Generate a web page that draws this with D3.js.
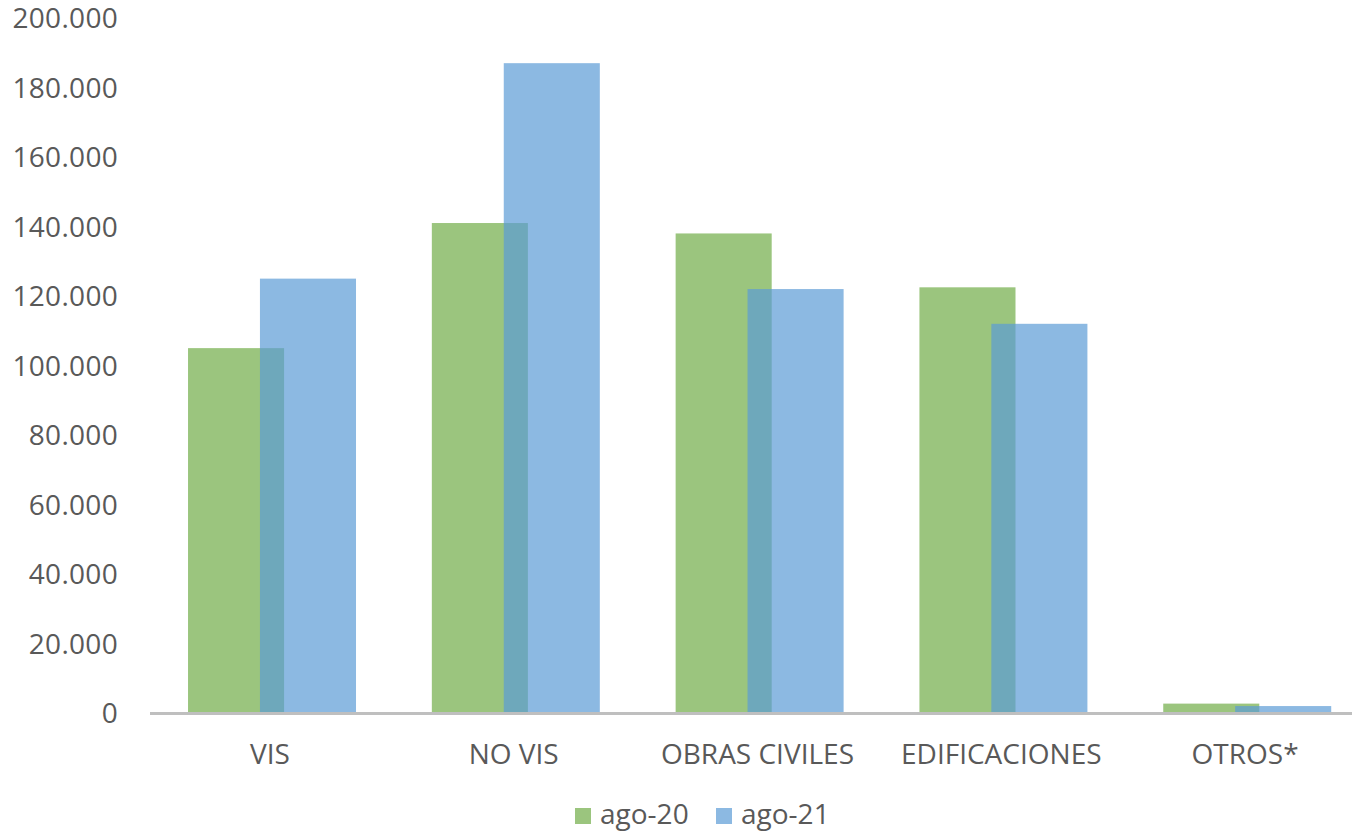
<!DOCTYPE html>
<html>
<head>
<meta charset="utf-8">
<script src="https://cdn.jsdelivr.net/npm/d3@7"></script>
<style>
  html, body { margin: 0; padding: 0; background: #fff; }
  svg { display: block; font-family: 'Open Sans', sans-serif; }
</style>
</head>
<body>
<svg id="chart" width="1352" height="835"></svg>
<script>
const categories = ['VIS', 'NO VIS', 'OBRAS CIVILES', 'EDIFICACIONES', 'OTROS*'];
const seriesNames = ['ago-20', 'ago-21'];
const ago20 = [105000, 141000, 138000, 122500, 2700];
const ago21 = [125000, 187000, 122000, 112000, 2000];
const yTicks = [0, 20000, 40000, 60000, 80000, 100000, 120000, 140000, 160000, 180000, 200000];

const colors = { 'ago-20': '#70AD47', 'ago-21': '#5B9BD5' };
const barOpacity = 0.7;
const textColor = '#595959';

const locale = d3.formatLocale({ decimal: ',', thousands: '.', grouping: [3], currency: ['$', ''] });
const fmt = locale.format(',d');

const svg = d3.select('#chart');

const x = d3.scaleBand()
    .domain(categories)
    .range([150, 1369]);
const y = d3.scaleLinear()
    .domain([0, 200000])
    .range([713, 18]);

const bw = x.bandwidth();
const barW = bw * 0.394;
const offsets = { 'ago-20': bw * 0.156, 'ago-21': bw * 0.451 };

// y tick labels (no gridlines)
svg.append('g')
    .attr('class', 'y-labels')
    .selectAll('text')
    .data(yTicks)
    .enter()
    .append('text')
        .attr('x', 118)
        .attr('y', d => y(d))
        .attr('dy', '0.37em')
        .attr('text-anchor', 'end')
        .attr('fill', textColor)
        .style('font-size', '28px')
        .style('letter-spacing', '0.3px')
        .text(d => fmt(d));

// bars
const series = [
    { name: 'ago-20', values: ago20 },
    { name: 'ago-21', values: ago21 }
];

series.forEach(s => {
    svg.append('g')
        .attr('class', 'bars')
        .selectAll('rect')
        .data(categories.map((c, i) => ({ cat: c, value: s.values[i] })))
        .enter()
        .append('rect')
            .attr('x', d => x(d.cat) + offsets[s.name])
            .attr('y', d => y(d.value))
            .attr('width', barW)
            .attr('height', d => y(0) - y(d.value))
            .attr('fill', colors[s.name])
            .attr('fill-opacity', barOpacity);
});

// x axis line
svg.append('line')
    .attr('x1', 150)
    .attr('x2', 1352)
    .attr('y1', y(0) + 0.5)
    .attr('y2', y(0) + 0.5)
    .attr('stroke', '#BFBFBF')
    .attr('stroke-width', 3);

// category labels
svg.append('g')
    .attr('class', 'x-labels')
    .selectAll('text')
    .data(categories)
    .enter()
    .append('text')
        .attr('x', d => x(d) + bw / 2 - 2)
        .attr('y', 764)
        .attr('text-anchor', 'middle')
        .attr('fill', textColor)
        .style('font-size', '28px')
        .text(d => d);

// legend
const legend = svg.append('g').attr('class', 'legend');
const legendX = [575, 716];
seriesNames.forEach((name, i) => {
    legend.append('rect')
        .attr('x', legendX[i])
        .attr('y', 808)
        .attr('width', 16)
        .attr('height', 16)
        .attr('fill', colors[name])
        .attr('fill-opacity', barOpacity);
    legend.append('text')
        .attr('x', legendX[i] + 25)
        .attr('y', 824)
        .attr('fill', textColor)
        .style('font-size', '28px')
        .text(name);
});
</script>
</body>
</html>
